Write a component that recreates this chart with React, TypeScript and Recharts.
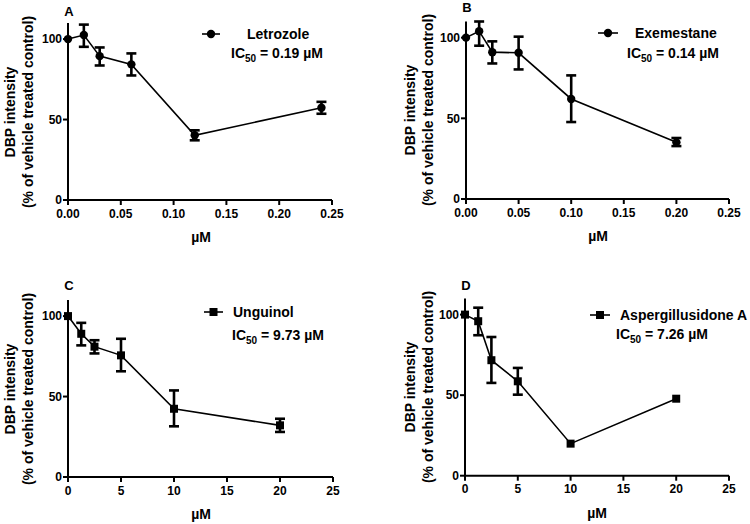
import React from 'react';
import { LineChart, Line, XAxis, YAxis, ErrorBar } from 'recharts';

// Panel A – Letrozole
const A_X = [0, 0.015, 0.03, 0.06, 0.12, 0.24];
const A_Y = [100, 102.5, 89.4, 84.3, 40.2, 57.3];
const A_LO = [null, 95.2, 83.6, 77.4, 37.1, 53.6];
const A_HI = [null, 109, 94.8, 91.1, 43.3, 61];

// Panel B – Exemestane
const B_X = [0, 0.0125, 0.025, 0.05, 0.1, 0.2];
const B_Y = [100, 104, 91, 90.6, 62, 35.1];
const B_LO = [null, 95, 84, 80.3, 47.7, 32.8];
const B_HI = [null, 110, 97.7, 100.6, 76.6, 37.8];

// Panel C – Unguinol
const C_X = [0, 1.25, 2.5, 5, 10, 20];
const C_Y = [100, 89, 81, 75.6, 42.4, 32.1];
const C_LO = [null, 81.8, 76.8, 65.7, 31.5, 28];
const C_HI = [null, 95.8, 85, 85.9, 53.8, 36.2];

// Panel D – Aspergillusidone A
const D_X = [0, 1.25, 2.5, 5, 10, 20];
const D_Y = [100, 95.9, 71.7, 58.6, 19.9, 47.8];
const D_LO = [null, 87.2, 57.6, 50.3, null, null];
const D_HI = [null, 104.3, 86.1, 66.9, null, null];

const TICKS_SMALL = [0, 0.05, 0.1, 0.15, 0.2, 0.25];
const TICKS_LARGE = [0, 5, 10, 15, 20, 25];
const Y_TICKS = [0, 50, 100];

const FONT = '"Liberation Sans", Arial, sans-serif';

function build(xs: number[], ys: number[], lo: (number | null)[], hi: (number | null)[]) {
  return xs.map((x, i) => ({
    x,
    y: ys[i],
    err: lo[i] == null || hi[i] == null ? null : [ys[i] - (lo[i] as number), (hi[i] as number) - ys[i]],
  }));
}

type PanelCfg = {
  letter: string;
  name: string;
  ic: string;
  data: any[];
  ticks: number[];
  decimals: number;
  marker: 'circle' | 'square';
  plotLeft: number;
  plotRight: number;
  plotTop: number;
  axisY: number;
  letterPos: [number, number];
  yLabelX: number;
  xLabelX: number;
  legend: { lineL: number; lineR: number; y: number; nameL: number; icL: number; icY: number };
  left: number;
  top: number;
};

const W = 375;
const H = 262;

function Marker({ kind, cx, cy }: { kind: 'circle' | 'square'; cx: number; cy: number }) {
  if (kind === 'circle') return <circle cx={cx} cy={cy} r={4.2} fill="#000" />;
  return <rect x={cx - 4} y={cy - 4} width={8} height={8} fill="#000" />;
}

function Panel({ cfg }: { cfg: PanelCfg }) {
  const xAxisH = 30;
  const margin = {
    top: cfg.plotTop,
    right: W - cfg.plotRight,
    bottom: H - cfg.axisY - xAxisH,
    left: 0,
  };
  const plotCenterY = (cfg.plotTop + cfg.axisY) / 2;
  const txt: React.CSSProperties = {
    position: 'absolute',
    fontFamily: FONT,
    fontWeight: 'bold',
    color: '#000',
    whiteSpace: 'nowrap',
    lineHeight: 1,
  };
  const lg = cfg.legend;
  return (
    <div style={{ position: 'absolute', left: cfg.left, top: cfg.top, width: W, height: H }}>
      <LineChart width={W} height={H} data={cfg.data} margin={margin}>
        <XAxis
          type="number"
          dataKey="x"
          domain={[cfg.ticks[0], cfg.ticks[cfg.ticks.length - 1]]}
          ticks={cfg.ticks}
          interval={0}
          height={xAxisH}
          tickFormatter={(v: number) => v.toFixed(cfg.decimals)}
          axisLine={{ stroke: '#000', strokeWidth: 2 }}
          tickLine={{ stroke: '#000', strokeWidth: 2 }}
          tickSize={5}
          tickMargin={4}
          tick={{ fill: '#000', fontSize: 12, fontWeight: 'bold', fontFamily: FONT }}
        />
        <YAxis
          type="number"
          domain={[0, 110]}
          ticks={Y_TICKS}
          interval={0}
          width={cfg.plotLeft}
          allowDataOverflow
          axisLine={{ stroke: '#000', strokeWidth: 2 }}
          tickLine={{ stroke: '#000', strokeWidth: 2 }}
          tickSize={5}
          tickMargin={1}
          tick={{ fill: '#000', fontSize: 12, fontWeight: 'bold', fontFamily: FONT }}
        />
        <Line
          type="linear"
          dataKey="y"
          stroke="#000"
          strokeWidth={1.6}
          isAnimationActive={false}
          dot={(p: any) => <Marker key={p.index} kind={cfg.marker} cx={p.cx} cy={p.cy} />}
          activeDot={false}
        >
          <ErrorBar dataKey="err" width={5} strokeWidth={2.6} stroke="#000" direction="y" isAnimationActive={false} />
        </Line>
      </LineChart>
      <div style={{ ...txt, fontSize: 13, left: cfg.letterPos[0], top: cfg.letterPos[1], transform: 'translate(-50%,-50%)' }}>
        {cfg.letter}
      </div>
      <div
        style={{
          ...txt,
          fontSize: 14,
          lineHeight: '18px',
          textAlign: 'center',
          left: cfg.yLabelX,
          top: plotCenterY,
          transform: 'translate(-50%,-50%) rotate(-90deg)',
        }}
      >
        DBP intensity
        <br />
        (% of vehicle treated control)
      </div>
      <div style={{ ...txt, fontSize: 14, left: cfg.xLabelX, top: cfg.axisY + 37, transform: 'translate(-50%,-50%)' }}>
        µM
      </div>
      <svg
        style={{ position: 'absolute', left: 0, top: 0, pointerEvents: 'none' }}
        width={W}
        height={H}
      >
        <line x1={lg.lineL} x2={lg.lineR} y1={lg.y} y2={lg.y} stroke="#000" strokeWidth={1.6} />
        <Marker kind={cfg.marker} cx={(lg.lineL + lg.lineR) / 2} cy={lg.y} />
      </svg>
      <div style={{ ...txt, fontSize: 14, left: lg.nameL, top: lg.y, transform: 'translateY(-50%)' }}>{cfg.name}</div>
      <div style={{ ...txt, fontSize: 14, left: lg.icL, top: lg.icY, transform: 'translateY(-50%)' }}>
        IC<span style={{ fontSize: 10, position: 'relative', top: 4 }}>50</span> = {cfg.ic} µM
      </div>
    </div>
  );
}

const PANELS: PanelCfg[] = [
  {
    letter: 'A',
    name: 'Letrozole',
    ic: '0.19',
    data: build(A_X, A_Y, A_LO, A_HI),
    ticks: TICKS_SMALL,
    decimals: 2,
    marker: 'circle',
    plotLeft: 68,
    plotRight: 332,
    plotTop: 23,
    axisY: 200,
    letterPos: [69, 11],
    yLabelX: 19,
    xLabelX: 201,
    legend: { lineL: 202, lineR: 220, y: 34, nameL: 247, icL: 231, icY: 53 },
    left: 0,
    top: 0,
  },
  {
    letter: 'B',
    name: 'Exemestane',
    ic: '0.14',
    data: build(B_X, B_Y, B_LO, B_HI),
    ticks: TICKS_SMALL,
    decimals: 2,
    marker: 'circle',
    plotLeft: 91,
    plotRight: 354,
    plotTop: 21.5,
    axisY: 199,
    letterPos: [92, 7],
    yLabelX: 44,
    xLabelX: 223,
    legend: { lineL: 223, lineR: 243, y: 33, nameL: 260, icL: 252, icY: 53 },
    left: 375,
    top: 0,
  },
  {
    letter: 'C',
    name: 'Unguinol',
    ic: '9.73',
    data: build(C_X, C_Y, C_LO, C_HI),
    ticks: TICKS_LARGE,
    decimals: 0,
    marker: 'square',
    plotLeft: 68,
    plotRight: 333,
    plotTop: 38,
    axisY: 215,
    letterPos: [69, 23],
    yLabelX: 19,
    xLabelX: 201,
    legend: { lineL: 204, lineR: 223, y: 50, nameL: 233, icL: 232, icY: 73 },
    left: 0,
    top: 262,
  },
  {
    letter: 'D',
    name: 'Aspergillusidone A',
    ic: '7.26',
    data: build(D_X, D_Y, D_LO, D_HI),
    ticks: TICKS_LARGE,
    decimals: 0,
    marker: 'square',
    plotLeft: 90,
    plotRight: 354,
    plotTop: 36.5,
    axisY: 213.7,
    letterPos: [91, 23],
    yLabelX: 44,
    xLabelX: 222,
    legend: { lineL: 215, lineR: 235, y: 53, nameL: 245, icL: 241, icY: 72 },
    left: 375,
    top: 262,
  },
];

export default function App() {
  return (
    <div style={{ position: 'absolute', left: 0, top: 0, width: 750, height: 524, background: '#fff', overflow: 'hidden' }}>
      {PANELS.map((p) => (
        <Panel key={p.letter} cfg={p} />
      ))}
    </div>
  );
}
